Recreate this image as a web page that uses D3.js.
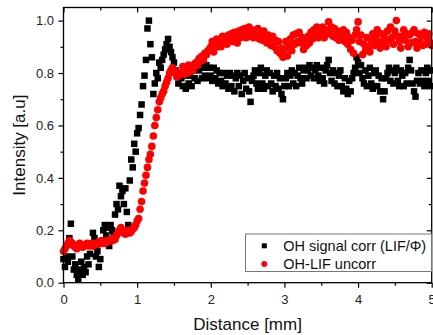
<!DOCTYPE html>
<html>
<head>
<meta charset="utf-8">
<script src="https://cdn.jsdelivr.net/npm/d3@7"></script>
<style>
  body { margin: 0; background: #fff; }
  svg { display: block; font-family: "Liberation Sans", Arial, sans-serif; }
</style>
</head>
<body>
<div id="chart"></div>
<script>
// sampled every 0.02 mm from 0 to 5 mm
const distanceStep = 0.02;

const ohLifUncorr = [
  0.12, 0.13, 0.14, 0.15, 0.16, 0.155, 0.15, 0.14, 0.135, 0.13,
  0.14, 0.15, 0.145, 0.135, 0.14, 0.145, 0.15, 0.14, 0.145, 0.15,
  0.14, 0.145, 0.15, 0.145, 0.155, 0.15, 0.16, 0.155, 0.15, 0.16,
  0.155, 0.16, 0.165, 0.16, 0.17, 0.165, 0.18, 0.19, 0.2, 0.21,
  0.2, 0.19, 0.185, 0.19, 0.2, 0.19, 0.195, 0.205, 0.21, 0.22,
  0.235, 0.245, 0.28, 0.31, 0.35, 0.38, 0.41, 0.44, 0.47, 0.49,
  0.52, 0.56, 0.6, 0.63, 0.66, 0.69, 0.705, 0.72, 0.73, 0.75,
  0.765, 0.78, 0.8, 0.81, 0.82, 0.81, 0.8, 0.785, 0.79, 0.8,
  0.8, 0.825, 0.795, 0.815, 0.8, 0.83, 0.805, 0.82, 0.81, 0.835,
  0.84, 0.83, 0.855, 0.845, 0.865, 0.85, 0.875, 0.87, 0.885, 0.89,
  0.9, 0.92, 0.88, 0.91, 0.93, 0.9, 0.925, 0.9, 0.94, 0.92,
  0.935, 0.91, 0.945, 0.925, 0.95, 0.92, 0.955, 0.935, 0.915, 0.96,
  0.935, 0.965, 0.945, 0.97, 0.935, 0.96, 0.975, 0.94, 0.965, 0.935,
  0.96, 0.94, 0.97, 0.93, 0.955, 0.925, 0.96, 0.935, 0.915, 0.945,
  0.93, 0.905, 0.94, 0.9, 0.925, 0.885, 0.92, 0.875, 0.895, 0.86,
  0.89, 0.92, 0.865, 0.905, 0.93, 0.885, 0.945, 0.91, 0.95, 0.92,
  0.955, 0.915, 0.935, 0.89, 0.925, 0.905, 0.94, 0.915, 0.955, 0.93,
  0.965, 0.94, 0.975, 0.935, 0.96, 0.945, 0.975, 0.935, 0.965, 0.95,
  0.995, 0.95, 0.975, 0.94, 0.97, 0.935, 0.96, 0.925, 0.95, 0.935,
  0.965, 0.92, 0.955, 0.91, 0.935, 0.89, 0.925, 0.875, 0.945, 0.965,
  0.995, 0.92, 0.945, 0.87, 0.91, 0.885, 0.935, 0.9, 0.88, 0.925,
  0.95, 0.905, 0.94, 0.965, 0.92, 0.895, 0.95, 0.91, 0.935, 0.9,
  0.96, 0.925, 0.975, 0.935, 0.91, 0.96, 1.0, 0.94, 0.92, 0.895,
  0.94, 0.965, 0.925, 0.95, 0.9, 0.945, 0.915, 0.955, 0.965, 0.92,
  0.895, 0.95, 0.92, 0.94, 0.905, 0.955, 0.91, 0.935, 0.95, 0.915,
  0.905
];

const ohSignalCorr = [
  0.09, 0.06, 0.1, 0.08, 0.17, 0.225, 0.1, 0.05, 0.07, 0.03,
  0.015, 0.05, 0.08, 0.03, 0.06, 0.04, 0.1, 0.07, 0.11, 0.14,
  0.19, 0.17, 0.1, 0.12, 0.06, 0.09, 0.16, 0.2, 0.22, 0.18,
  0.21, 0.14, 0.22, 0.2, 0.19, 0.26, 0.3, 0.28, 0.37, 0.33,
  0.35, 0.3, 0.36, 0.27, 0.22, 0.39, 0.47, 0.44, 0.53, 0.5,
  0.57, 0.59, 0.64, 0.68, 0.75, 0.79, 0.85, 0.97, 1.0, 0.91,
  0.86, 0.72, 0.76, 0.8, 0.78, 0.84, 0.82, 0.85, 0.87, 0.89,
  0.91, 0.93, 0.9, 0.88, 0.86, 0.84, 0.81, 0.79, 0.76, 0.8,
  0.78, 0.75, 0.79, 0.74, 0.8, 0.76, 0.79, 0.75, 0.81, 0.78,
  0.82, 0.77, 0.81, 0.83, 0.78, 0.82, 0.79, 0.83, 0.78, 0.82,
  0.79, 0.77, 0.82, 0.78, 0.81, 0.76, 0.8, 0.77, 0.75, 0.8,
  0.76, 0.79, 0.74, 0.8, 0.75, 0.79, 0.73, 0.78, 0.8, 0.75,
  0.79, 0.72, 0.77, 0.8, 0.74, 0.78, 0.73, 0.69, 0.77, 0.79,
  0.81, 0.76, 0.74, 0.8, 0.82, 0.76, 0.74, 0.79, 0.81, 0.75,
  0.8, 0.76, 0.73, 0.79, 0.75, 0.8, 0.74, 0.78, 0.72, 0.7,
  0.75, 0.78, 0.8, 0.75, 0.79, 0.81, 0.76, 0.8, 0.75, 0.79,
  0.82, 0.78, 0.76, 0.81, 0.82, 0.78, 0.81, 0.83, 0.79, 0.82,
  0.78, 0.81, 0.83, 0.79, 0.77, 0.82, 0.78, 0.76, 0.81, 0.83,
  0.85, 0.8, 0.77, 0.81, 0.76, 0.8, 0.75, 0.79, 0.81, 0.75,
  0.73, 0.78, 0.74, 0.72, 0.77, 0.73, 0.78, 0.8, 0.82, 0.86,
  0.84, 0.8, 0.83, 0.78, 0.76, 0.81, 0.75, 0.79, 0.82, 0.76,
  0.74, 0.8, 0.81, 0.75, 0.79, 0.73, 0.78, 0.7, 0.73, 0.78,
  0.8, 0.82, 0.77, 0.81, 0.76, 0.8, 0.82, 0.77, 0.75, 0.81,
  0.79, 0.75, 0.8, 0.76, 0.82, 0.85, 0.81, 0.76, 0.73, 0.71,
  0.77, 0.8, 0.76, 0.81, 0.77, 0.75, 0.8, 0.82, 0.77, 0.75,
  0.81
];

const xTicks = [0, 1, 2, 3, 4, 5];
const yTicks = [0.0, 0.2, 0.4, 0.6, 0.8, 1.0];
const legendLabels = ["OH signal corr (LIF/\u03A6)", "OH-LIF uncorr"];

const width = 433;
const height = 335;
const margin = { top: 7.5, right: 1.3, bottom: 52.3, left: 63.5 };

const svg = d3
  .select("#chart")
  .append("svg")
  .attr("width", width)
  .attr("height", height);

const x = d3
  .scaleLinear()
  .domain([0, 5])
  .range([margin.left, width - margin.right]);

const y = d3
  .scaleLinear()
  .domain([0, 1.05])
  .range([height - margin.bottom, margin.top]);

const toPoints = (values) =>
  values.map((v, i) => ({ d: i * distanceStep, v }));

// black squares first, red circles on top
svg
  .append("g")
  .selectAll("rect")
  .data(toPoints(ohSignalCorr))
  .join("rect")
  .attr("x", (p) => x(p.d) - 3.25)
  .attr("y", (p) => y(p.v) - 3.25)
  .attr("width", 6.5)
  .attr("height", 6.5)
  .attr("fill", "#000");

svg
  .append("g")
  .selectAll("circle")
  .data(toPoints(ohLifUncorr))
  .join("circle")
  .attr("cx", (p) => x(p.d))
  .attr("cy", (p) => y(p.v))
  .attr("r", 3.8)
  .attr("fill", "#ff0000");

// axes with minor ticks, mirrored on top/right
const xMinor = d3.range(0.5, 5, 1);
const yMinor = d3.range(0.1, 1.05, 0.2);
const bottom = height - margin.bottom;
const right = width - margin.right;

const drawAxis = (axis, pos, minor, major, fmt, labels) => {
  const g = svg.append("g").attr("transform", pos);
  g.call(axis.tickValues(major).tickSize(5).tickFormat(labels ? fmt : ""));
  g.append("g").call(axis.tickValues(minor).tickSize(3).tickFormat(""));
  g.selectAll("path").remove();
  g.selectAll("line").attr("stroke", "#000").attr("stroke-width", 1.2);
  g.selectAll("text")
    .attr("fill", "#222")
    .style("font-size", "13px")
    .style("font-family", "Liberation Sans, Arial, sans-serif");
  return g;
};

drawAxis(d3.axisBottom(x), `translate(0,${bottom})`, xMinor, xTicks, d3.format("d"), true)
  .selectAll("text").attr("dy", "1.05em");
drawAxis(d3.axisTop(x), `translate(0,${margin.top})`, xMinor, xTicks, null, false)
  .selectAll("line").attr("y2", (d) => (xTicks.includes(d) ? 5 : 3));
drawAxis(d3.axisLeft(y), `translate(${margin.left},0)`, yMinor, yTicks, d3.format(".1f"), true)
  .selectAll("text").attr("x", -9.5);
drawAxis(d3.axisRight(y), `translate(${right},0)`, yMinor, yTicks, null, false)
  .selectAll("line").attr("x2", (d) => (yTicks.some((t) => Math.abs(t - d) < 1e-6) ? -5 : -3));

svg
  .append("rect")
  .attr("x", margin.left)
  .attr("y", margin.top)
  .attr("width", right - margin.left)
  .attr("height", bottom - margin.top)
  .attr("fill", "none")
  .attr("stroke", "#000")
  .attr("stroke-width", 1.3);

// axis titles
svg
  .append("text")
  .attr("x", (margin.left + right) / 2)
  .attr("y", 330)
  .attr("text-anchor", "middle")
  .style("font-size", "17px")
  .attr("fill", "#111")
  .text("Distance [mm]");

svg
  .append("text")
  .attr("transform", `translate(25,${(margin.top + bottom) / 2}) rotate(-90)`)
  .attr("text-anchor", "middle")
  .style("font-size", "17px")
  .attr("fill", "#111")
  .text("Intensity [a.u]");

// legend
const legend = svg.append("g");
legend
  .append("rect")
  .attr("x", 245.5)
  .attr("y", 234)
  .attr("width", 186)
  .attr("height", 37.5)
  .attr("fill", "#fff")
  .attr("stroke", "#777")
  .attr("stroke-width", 1);

legend
  .append("rect")
  .attr("x", 261.8)
  .attr("y", 243.3)
  .attr("width", 5)
  .attr("height", 5)
  .attr("fill", "#000");

legend
  .append("circle")
  .attr("cx", 264.3)
  .attr("cy", 264)
  .attr("r", 3)
  .attr("fill", "#ff0000");

legend
  .selectAll("text")
  .data(legendLabels)
  .join("text")
  .attr("x", 283.3)
  .attr("y", (d, i) => 250.8 + i * 18.5)
  .style("font-size", "14.5px")
  .attr("fill", "#111")
  .text((d) => d);
</script>
</body>
</html>
